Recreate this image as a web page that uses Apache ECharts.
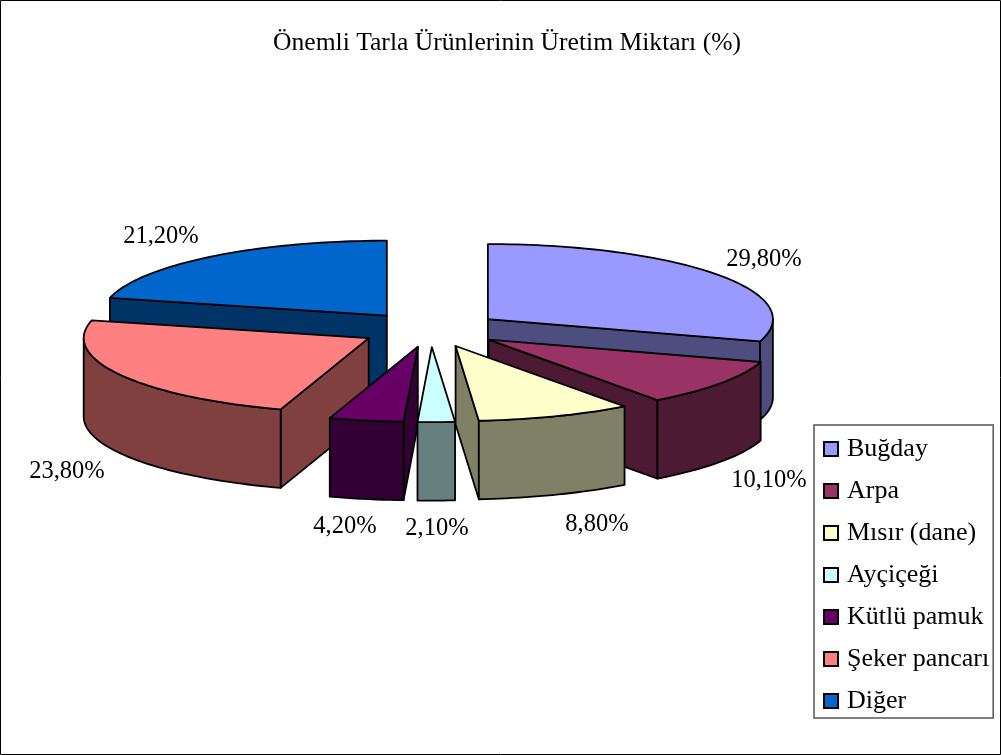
<!DOCTYPE html>
<html>
<head>
<meta charset="utf-8">
<style>html,body{margin:0;padding:0;background:#fff}#c{width:1001px;height:755px}</style>
<script src="https://cdn.jsdelivr.net/npm/echarts@6/dist/echarts.min.js"></script>
</head>
<body>
<div id="c"></div>
<script>
const titleText = 'Önemli Tarla Ürünlerinin Üretim Miktarı (%)';
const categories = ['Buğday', 'Arpa', 'Mısır (dane)', 'Ayçiçeği', 'Kütlü pamuk', 'Şeker pancarı', 'Diğer'];
const values = [29.8, 10.1, 8.8, 2.1, 4.2, 23.8, 21.2];
const topColors = ['#9999FF', '#993366', '#FFFFCC', '#CCFFFF', '#660066', '#FF8080', '#0066CC'];
const wallColors = ['#4D4D80', '#4D1A33', '#808066', '#668080', '#330033', '#804040', '#003366'];
const paintRank = [1, 2, 5, 6, 4, 3, 0];
const labelCenters = [[764, 260], [769, 481], [597, 525], [437, 529], [345, 527], [67, 472], [161, 237]];

const pie = { cx: 430.7, cy: 329.5, rx: 285, ry: 75, depth: 78.5, ex: 71, ey: 17.6 };
const total = values.reduce((a, b) => a + b, 0);
const serif = '"Liberation Serif", "Times New Roman", serif';

function renderSlice(index) {
  return function (params, api) {
    const v = api.value(0);
    let before = 0;
    for (let i = 0; i < index; i++) before += values[i];
    const a0 = before / total * Math.PI * 2;
    const a1 = (before + v) / total * Math.PI * 2;
    const mid = (a0 + a1) / 2;
    const ox = pie.cx + Math.sin(mid) * pie.ex;
    const oy = pie.cy - Math.cos(mid) * pie.ey;
    const rim = a => [ox + Math.sin(a) * pie.rx, oy - Math.cos(a) * pie.ry];
    const down = p => [p[0], p[1] + pie.depth];
    const style = c => ({ fill: c, stroke: '#000', lineWidth: 1.8, lineJoin: 'round' });
    const poly = (pts, c) => ({ type: 'polygon', shape: { points: pts }, style: style(c) });
    const wall = wallColors[index];
    const apex = [ox, oy];
    const p0 = rim(a0), p1 = rim(a1);
    const children = [];
    // only the cut faces turned towards the viewer are drawn
    if (Math.sin(a0) < -1e-6) children.push(poly([apex, p0, down(p0), down(apex)], wall));
    if (Math.sin(a1) > 1e-6) children.push(poly([apex, p1, down(p1), down(apex)], wall));
    const from = Math.max(a0, Math.PI / 2), to = Math.min(a1, Math.PI * 1.5);
    if (to > from) {
      const top = [], n = Math.max(2, Math.ceil((to - from) * 40));
      for (let i = 0; i <= n; i++) top.push(rim(from + (to - from) * i / n));
      children.push(poly(top.concat(top.slice().reverse().map(down)), wall));
    }
    const face = [apex];
    const m = Math.max(2, Math.ceil((a1 - a0) * 40));
    for (let i = 0; i <= m; i++) face.push(rim(a0 + (a1 - a0) * i / m));
    children.push(poly(face, topColors[index]));
    children.push({
      type: 'text', z2: 100,
      style: {
        x: labelCenters[index][0], y: labelCenters[index][1],
        text: v.toFixed(2).replace('.', ',') + '%',
        font: '24.5px ' + serif, fill: '#000', align: 'center', verticalAlign: 'middle'
      }
    });
    return { type: 'group', children };
  };
}

const chart = echarts.init(document.getElementById('c'), null, { renderer: 'canvas' });
chart.setOption({
  animation: false,
  backgroundColor: '#fff',
  title: {
    text: titleText, left: 502, top: 25, textAlign: 'center',
    textStyle: { fontFamily: serif, fontSize: 25.6, fontWeight: 'normal', color: '#000' }
  },
  legend: {
    orient: 'vertical', left: 814, top: 425,
    data: categories, icon: 'rect', itemWidth: 14, itemHeight: 14, itemGap: 16, selectedMode: false,
    padding: [11, 4, 4, 9],
    borderColor: '#555', borderWidth: 1.5, backgroundColor: '#fff',
    itemStyle: { borderColor: '#000', borderWidth: 2 },
    textStyle: { fontFamily: serif, fontSize: 26, color: '#000', padding: [0, 0, 0, 4], lineHeight: 24 }
  },
  graphic: [{
    type: 'rect', silent: true, z: -1,
    shape: { x: 0.5, y: 0.5, width: 1000, height: 754 },
    style: { fill: 'none', stroke: '#000', lineWidth: 1 }
  }],
  series: categories.map((name, i) => ({
    type: 'custom', name, coordinateSystem: 'none', z: 2 + paintRank[i],
    itemStyle: { color: topColors[i] }, clip: false, silent: true,
    renderItem: renderSlice(i),
    data: [[values[i]]]
  }))
});
</script>
</body>
</html>
